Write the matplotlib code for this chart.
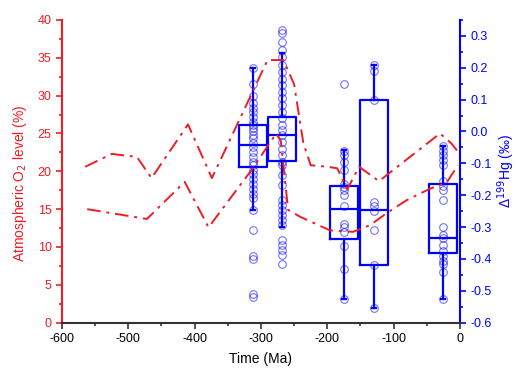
import matplotlib
matplotlib.use("Agg")
import matplotlib.pyplot as plt
from matplotlib.ticker import MultipleLocator

plt.rcParams['font.family'] = ['Liberation Sans', 'DejaVu Sans']

# Atmospheric O2 curves (Ma, %)
upper_x = [-565, -525, -487, -465, -410, -374, -290, -266, -250, -236, -225, -200, -185, -170, -152, -122, -30, -13, -3]
upper_o2 = [20.6, 22.3, 21.9, 19.1, 26.2, 19.1, 34.7, 34.7, 31.5, 23.7, 20.8, 20.6, 20.4, 17.6, 20.6, 18.7, 25.0, 23.7, 22.6]
lower_x = [-562, -472, -415, -379, -314, -277, -270, -259, -241, -196, -161, -135, -110, -80, -45, -20, -3]
lower_o2 = [15.0, 13.7, 18.6, 12.6, 20.2, 25.0, 24.0, 14.9, 14.0, 12.2, 12.0, 12.9, 14.5, 16.2, 17.7, 18.5, 20.8]

# Hg box plots (positions in Ma, values in permil)
box_pos = [-312, -268, -175, -130, -25]
box_q1 = [-0.111, -0.092, -0.337, -0.420, -0.381]
box_med = [-0.041, -0.012, -0.242, -0.245, -0.333]
box_q3 = [0.020, 0.046, -0.171, 0.098, -0.166]
box_wlo = [-0.247, -0.300, -0.525, -0.554, -0.525]
box_whi = [0.198, 0.247, -0.059, 0.208, -0.045]

pts1 = [0.20, 0.15, 0.11, 0.09, 0.075, 0.06, 0.045, 0.03, 0.02, 0.01, 0.0, -0.01, -0.02, -0.035,
        -0.05, -0.065, -0.08, -0.095, -0.105, -0.12, -0.135, -0.15, -0.165, -0.18, -0.195, -0.21,
        -0.245, -0.31, -0.39, -0.40, -0.51, -0.52]
pts2 = [0.318, 0.308, 0.281, 0.255, 0.234, 0.208, 0.187, 0.166, 0.145, 0.124, 0.104, 0.083, 0.061,
        0.041, 0.020, 0.004, -0.012, -0.033, -0.054, -0.075, -0.096, -0.106, -0.137, -0.169, -0.216,
        -0.232, -0.247, -0.263, -0.279, -0.294, -0.342, -0.357, -0.373, -0.389, -0.415]
pts3 = [0.15, -0.06, -0.075, -0.095, -0.12, -0.165, -0.175, -0.185, -0.20, -0.235, -0.29, -0.30,
        -0.315, -0.36, -0.43, -0.525]
pts4 = [0.21, 0.19, 0.10, -0.22, -0.235, -0.25, -0.31, -0.42, -0.555]
pts5 = [-0.045, -0.06, -0.075, -0.09, -0.105, -0.155, -0.17, -0.185, -0.215, -0.30, -0.325, -0.335,
        -0.355, -0.375, -0.39, -0.405, -0.415, -0.44, -0.525]
points = [pts1, pts2, pts3, pts4, pts5]

RED = '#f01c24'
BLUE = '#0000ff'

fig = plt.figure(figsize=(5.22, 3.69), dpi=100)
ax1 = fig.add_axes([0.1188, 0.1255, 0.881 - 0.1188, 0.946 - 0.1255])
ax2 = ax1.twinx()

# Boxes on right axis
stats = []
for i in range(len(box_pos)):
    stats.append(dict(med=box_med[i], q1=box_q1[i], q3=box_q3[i],
                      whislo=box_wlo[i], whishi=box_whi[i], fliers=[]))
ax2.bxp(stats, positions=box_pos, widths=42, showfliers=False, manage_ticks=False,
        boxprops=dict(color=BLUE, linewidth=1.6),
        medianprops=dict(color=BLUE, linewidth=1.6),
        whiskerprops=dict(color=BLUE, linewidth=1.6),
        capprops=dict(color=BLUE, linewidth=1.6), capwidths=6)
for p, vals in zip(box_pos, points):
    ax2.plot([p] * len(vals), vals, linestyle='none', marker='o', markersize=5.5,
             markerfacecolor='none', markeredgecolor=BLUE, markeredgewidth=0.8, alpha=0.55)

ax2.set_ylim(-0.6, 0.35)
ax2.yaxis.set_minor_locator(MultipleLocator(0.05))
ax2.set_yticks([-0.6, -0.5, -0.4, -0.3, -0.2, -0.1, 0.0, 0.1, 0.2, 0.3])
ax2.set_yticklabels(['-0.6', '-0.5', '-0.4', '-0.3', '-0.2', '-0.1', '0.0', '0.1', '0.2', '0.3'])
ax2.tick_params(axis='y', which='both', colors=BLUE, direction='out', labelsize=9, width=1.2)
ax2.tick_params(axis='y', which='major', length=4)
ax2.tick_params(axis='y', which='minor', length=2.5)
ax2.set_ylabel('Δ$^{199}$Hg (‰)', color=BLUE, fontsize=10, rotation=90, labelpad=3)
ax2.spines['right'].set_color(BLUE)
ax2.spines['right'].set_linewidth(1.5)
ax2.spines['top'].set_visible(False)
ax2.spines['left'].set_visible(False)
ax2.spines['bottom'].set_visible(False)

# O2 curves on left axis, drawn above
ax1.set_zorder(ax2.get_zorder() + 1)
ax1.patch.set_visible(False)
ax1.plot(upper_x, upper_o2, color=RED, linewidth=1.4, linestyle=(0, (7, 3, 1.5, 3)))
ax1.plot(lower_x, lower_o2, color=RED, linewidth=1.4, linestyle=(0, (7, 3, 1.5, 3)))

ax1.set_xlim(-600, 0)
ax1.set_ylim(0, 40)
ax1.xaxis.set_minor_locator(MultipleLocator(50))
ax1.yaxis.set_major_locator(MultipleLocator(5))
ax1.yaxis.set_minor_locator(MultipleLocator(2.5))
ax1.tick_params(axis='y', which='both', colors=RED, direction='out', labelsize=9, width=1.2)
ax1.tick_params(axis='y', which='major', length=4)
ax1.tick_params(axis='y', which='minor', length=2.5)
ax1.tick_params(axis='x', which='both', colors='#333333', direction='out', labelsize=9, width=1.2)
ax1.tick_params(axis='x', which='major', length=4)
ax1.tick_params(axis='x', which='minor', length=2.5)
ax1.set_xticks([-600, -500, -400, -300, -200, -100, 0])
ax1.set_xticklabels(['-600', '-500', '-400', '-300', '-200', '-100', '0'])
for lab in ax1.get_xticklabels():
    lab.set_color('black')
ax1.set_xlabel('Time (Ma)', fontsize=10, labelpad=5)
ax1.set_ylabel('Atmospheric O$_2$ level (%)', color=RED, fontsize=10, labelpad=3)
ax1.yaxis.set_label_coords(-0.082, 0.46)
ax1.spines['left'].set_color(RED)
ax1.spines['left'].set_linewidth(1.5)
ax1.spines['bottom'].set_color('#333333')
ax1.spines['bottom'].set_linewidth(1.5)
ax1.spines['top'].set_visible(False)
ax1.spines['right'].set_visible(False)

fig.savefig('out.png', dpi=100)
